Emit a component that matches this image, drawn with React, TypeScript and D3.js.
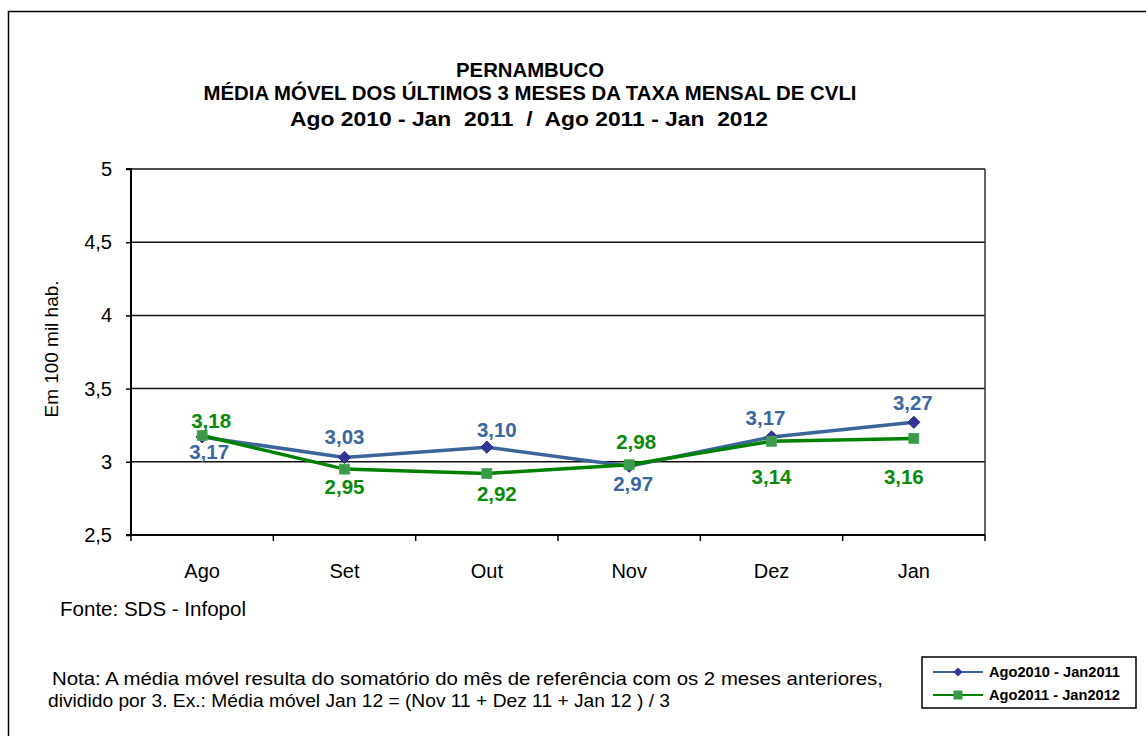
import React, { useEffect, useRef } from 'react';
import * as d3 from 'd3';

const months = ['Ago', 'Set', 'Out', 'Nov', 'Dez', 'Jan'];
const serie2010 = [3.17, 3.03, 3.1, 2.97, 3.17, 3.27];
const serie2011 = [3.18, 2.95, 2.92, 2.98, 3.14, 3.16];
const yTicks = [2.5, 3, 3.5, 4, 4.5, 5];
const seriesNames = ['Ago2010 - Jan2011', 'Ago2011 - Jan2012'];

// deslocamento dos rótulos de valor (dx, dy) em relação ao ponto
const offs2010 = [[7, 15], [0, -20], [10, -17], [4, 18], [-6, -19], [-1, -19]];
const offs2011 = [[9, -14], [0, 18], [10, 20], [7, -23], [0, 36], [-10, 39]];

const FONT = "'Liberation Sans', Arial, sans-serif";
const BLUE_LINE = '#3b6599';
const BLUE_MARK = '#333399';
const BLUE_TEXT = '#3d67a0';
const GREEN_LINE = '#008000';
const GREEN_MARK = '#3a9a4a';
const GREEN_TEXT = '#0a8a0a';

export default function App() {
  const svgRef = useRef<SVGSVGElement>(null);

  useEffect(() => {
    if (!svgRef.current) return;
    const svg = d3.select(svgRef.current);
    svg.selectAll('*').remove();

    const W = 1146;
    const H = 736;
    const plot = { left: 131, right: 985, top: 169, bottom: 535 };

    svg.attr('width', W).attr('height', H);

    // borda externa
    svg.append('rect')
      .attr('x', 8.5).attr('y', 11.5)
      .attr('width', W + 20).attr('height', H + 20)
      .attr('fill', 'white').attr('stroke', '#000').attr('stroke-width', 1.5);

    const x = d3.scaleBand<string>().domain(months).range([plot.left, plot.right]).padding(0);
    const y = d3.scaleLinear().domain([2.5, 5]).range([plot.bottom, plot.top]);
    const cx = (m: string) => (x(m) || 0) + x.bandwidth() / 2;
    const fmt = (v: number) => d3.format('.2f')(v).replace('.', ',');
    const fmtTick = (v: number) => String(v).replace('.', ',');

    // títulos
    const title = svg.append('g').attr('font-family', FONT).attr('font-weight', 'bold')
      .attr('text-anchor', 'middle').attr('fill', '#000');
    title.append('text').attr('x', 530).attr('y', 77).attr('font-size', 20)
      .attr('textLength', 148).attr('lengthAdjust', 'spacingAndGlyphs').text('PERNAMBUCO');
    title.append('text').attr('x', 530).attr('y', 100).attr('font-size', 19.5)
      .attr('textLength', 653).attr('lengthAdjust', 'spacingAndGlyphs')
      .text('MÉDIA MÓVEL DOS ÚLTIMOS 3 MESES DA TAXA MENSAL DE CVLI');
    title.append('text').attr('x', 529).attr('y', 126).attr('font-size', 21)
      .attr('textLength', 478).attr('lengthAdjust', 'spacingAndGlyphs')
      .attr('xml:space', 'preserve').style('white-space', 'pre')
      .text('Ago 2010 - Jan  2011  /  Ago 2011 - Jan  2012');

    // grade horizontal
    svg.append('g').selectAll('line')
      .data(yTicks.filter(t => t > 2.5))
      .enter().append('line')
      .attr('x1', plot.left).attr('x2', plot.right)
      .attr('y1', d => y(d)).attr('y2', d => y(d))
      .attr('stroke', '#111').attr('stroke-width', 1.5);

    // borda direita
    svg.append('line')
      .attr('x1', plot.right).attr('x2', plot.right)
      .attr('y1', plot.top).attr('y2', plot.bottom)
      .attr('stroke', '#333').attr('stroke-width', 1.5);

    // eixo Y
    const yAxis = d3.axisLeft(y).tickValues(yTicks).tickSize(5).tickPadding(14).tickFormat(d => fmtTick(+d));
    const gy = svg.append('g').attr('transform', `translate(${plot.left},0)`).call(yAxis);
    gy.select('.domain').attr('stroke', '#000').attr('stroke-width', 2).attr('d', `M-5,${plot.top}H0V${plot.bottom}H-5`);
    gy.selectAll('.tick line').attr('stroke', '#000').attr('stroke-width', 1.5);
    gy.selectAll('.tick text').attr('font-family', FONT).attr('font-size', 20).attr('fill', '#000');

    // eixo X
    const gx = svg.append('g').attr('transform', `translate(0,${plot.bottom})`);
    gx.append('line').attr('x1', plot.left - 5).attr('x2', plot.right)
      .attr('stroke', '#000').attr('stroke-width', 2);
    const bounds = months.map(m => x(m) || 0).concat([plot.right]);
    gx.selectAll('.xt').data(bounds).enter().append('line')
      .attr('x1', d => d).attr('x2', d => d).attr('y1', 0).attr('y2', 6)
      .attr('stroke', '#000').attr('stroke-width', 1.5);
    gx.selectAll('.xl').data(months).enter().append('text')
      .attr('x', d => cx(d)).attr('y', 43)
      .attr('text-anchor', 'middle').attr('font-family', FONT).attr('font-size', 20)
      .text(d => d);

    // título eixo Y
    svg.append('text')
      .attr('transform', 'translate(58,349) rotate(-90)')
      .attr('text-anchor', 'middle').attr('font-family', FONT).attr('font-size', 19)
      .attr('textLength', 137).attr('lengthAdjust', 'spacingAndGlyphs')
      .text('Em 100 mil hab.');

    const line = d3.line<number>().x((_, i) => cx(months[i])).y(d => y(d));

    // série 2010
    svg.append('path').datum(serie2010).attr('d', line)
      .attr('fill', 'none').attr('stroke', BLUE_LINE).attr('stroke-width', 3.5);
    svg.append('g').selectAll('path').data(serie2010).enter().append('path')
      .attr('d', d3.symbol(d3.symbolDiamond2, 95))
      .attr('transform', (d, i) => `translate(${cx(months[i])},${y(d)})`)
      .attr('fill', BLUE_MARK).attr('stroke', '#2a2a80').attr('stroke-width', 1);

    // série 2011
    svg.append('path').datum(serie2011).attr('d', line)
      .attr('fill', 'none').attr('stroke', GREEN_LINE).attr('stroke-width', 3.5);
    svg.append('g').selectAll('rect').data(serie2011).enter().append('rect')
      .attr('x', (d, i) => cx(months[i]) - 5).attr('y', d => y(d) - 5)
      .attr('width', 10).attr('height', 10)
      .attr('fill', GREEN_MARK).attr('stroke', '#4aa85a').attr('stroke-width', 0.8);

    // rótulos de valor
    const labels = svg.append('g').attr('font-family', FONT).attr('font-weight', 'bold')
      .attr('font-size', 20.5).attr('text-anchor', 'middle');
    labels.selectAll('.l1').data(serie2010).enter().append('text')
      .attr('x', (d, i) => cx(months[i]) + offs2010[i][0])
      .attr('y', (d, i) => y(d) + offs2010[i][1] + 7)
      .attr('fill', BLUE_TEXT).text(d => fmt(d));
    labels.selectAll('.l2').data(serie2011).enter().append('text')
      .attr('x', (d, i) => cx(months[i]) + offs2011[i][0])
      .attr('y', (d, i) => y(d) + offs2011[i][1] + 7)
      .attr('fill', GREEN_TEXT).text(d => fmt(d));

    // fonte e nota
    svg.append('text').attr('x', 60).attr('y', 616).attr('font-family', FONT).attr('font-size', 19.5)
      .attr('textLength', 186).attr('lengthAdjust', 'spacingAndGlyphs')
      .text('Fonte: SDS - Infopol');
    svg.append('text').attr('x', 52).attr('y', 685).attr('font-family', FONT).attr('font-size', 18.5)
      .attr('textLength', 831).attr('lengthAdjust', 'spacingAndGlyphs')
      .text('Nota: A média móvel resulta do somatório do mês de referência com os 2 meses anteriores,');
    svg.append('text').attr('x', 48).attr('y', 707).attr('font-family', FONT).attr('font-size', 18.5)
      .attr('textLength', 622).attr('lengthAdjust', 'spacingAndGlyphs')
      .text('dividido por 3. Ex.: Média móvel  Jan 12 = (Nov 11 + Dez 11 + Jan 12 ) / 3');

    // legenda
    const lg = svg.append('g');
    lg.append('rect').attr('x', 922).attr('y', 657).attr('width', 214).attr('height', 51)
      .attr('fill', 'white').attr('stroke', '#000').attr('stroke-width', 1.5);
    const legendRows = [
      { name: seriesNames[0], color: BLUE_LINE, mark: BLUE_MARK, kind: 'diamond' },
      { name: seriesNames[1], color: GREEN_LINE, mark: GREEN_MARK, kind: 'square' },
    ];
    legendRows.forEach((r, i) => {
      const ly = 672 + i * 23;
      lg.append('line').attr('x1', 933).attr('x2', 983).attr('y1', ly).attr('y2', ly)
        .attr('stroke', r.color).attr('stroke-width', 2);
      if (r.kind === 'diamond') {
        lg.append('path').attr('d', d3.symbol(d3.symbolDiamond2, 50))
          .attr('transform', `translate(958,${ly})`).attr('fill', r.mark);
      } else {
        lg.append('rect').attr('x', 953.5).attr('y', ly - 4.5).attr('width', 9).attr('height', 9)
          .attr('fill', r.mark);
      }
      lg.append('text').attr('x', 989).attr('y', ly + 5).attr('font-family', FONT)
        .attr('font-weight', 'bold').attr('font-size', 14)
        .attr('textLength', 131).attr('lengthAdjust', 'spacingAndGlyphs')
        .text(r.name);
    });
  }, []);

  return (
    <div style={{ position: 'absolute', left: 0, top: 0, width: 1146, height: 736, overflow: 'hidden', background: 'white' }}>
      <svg ref={svgRef} style={{ display: 'block' }} />
    </div>
  );
}
